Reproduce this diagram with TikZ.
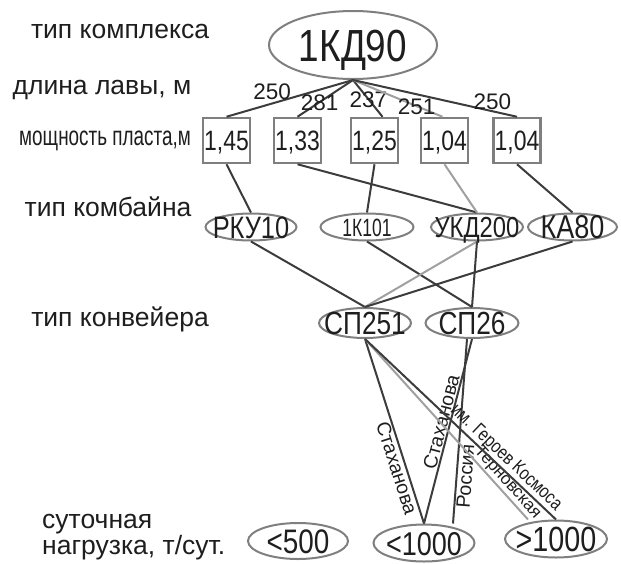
\documentclass[tikz,border=0pt]{standalone}
\usepackage{fontspec}
\setmainfont{Liberation Sans}
\newfontfamily\uzkiy[FakeStretch=0.82]{Liberation Sans}
\newfontfamily\ochenuzkiy[FakeStretch=0.7]{Liberation Sans}
\usepackage{tikz}
\usetikzlibrary{shapes.geometric}
\definecolor{ramka}{HTML}{7F7F7F}
\definecolor{liniya}{HTML}{3C3C3C}
\definecolor{svetlaya}{HTML}{A0A0A0}
\definecolor{tekst}{HTML}{1E1E1E}

\tikzset{
  uroven/.style={text=tekst,inner sep=0pt,text height=13.8pt,text depth=0pt,
    font=\fontsize{26.5}{28}\selectfont},
  oval/.style={ellipse,draw=ramka,line width=2pt,text=tekst,inner sep=-30pt,
    text height=22pt,text depth=0pt},
  plast/.style={rectangle,draw=ramka,line width=2.5pt,text=tekst,inner sep=0pt,
    minimum width=47pt,minimum height=45pt,text height=20pt,text depth=0pt,
    font=\uzkiy\fontsize{28}{30}\selectfont},
  dlina/.style={text=tekst,inner sep=1pt,text height=16pt,text depth=0pt,
    font=\fontsize{22.5}{24}\selectfont},
  ulica/.style={text=tekst,inner sep=1pt,sloped,font=\fontsize{19.5}{20}\selectfont},
  svaz/.style={liniya,line width=2pt},
  svetl/.style={svetlaya,line width=2pt}
}

\begin{document}
\begin{tikzpicture}[x=1pt,y=-1pt]
\useasboundingbox (0,0) rectangle (621,563);

% подписи уровней
\node[uroven] (tKompl) at (120,32) {тип комплекса};
\node[uroven] (tDlina) at (102,88) {длина лавы, м};
\node[uroven,font=\ochenuzkiy\fontsize{27}{28}\selectfont] (tMosch) at (105,139) {мощность пласта,м};
\node[uroven] (tKomb) at (108,210) {тип комбайна};
\node[uroven] (tKonv) at (120,320) {тип конвейера};
\node[text=tekst,inner sep=0pt,align=left,anchor=west,font=\fontsize{26.5}{26}\selectfont]
  (tNagr) at (42,537) {суточная\\нагрузка, т/сут.};

% комплекс
\node[oval,minimum width=168pt,minimum height=68pt,text height=32pt,
  font=\uzkiy\fontsize{45}{48}\selectfont] (kompleks) at (353,45) {1КД90};

% мощность пласта
\node[plast] (p1) at (226.5,140.5) {1,45};
\node[plast] (p2) at (297.5,140.5) {1,33};
\node[plast] (p3) at (374.5,140.5) {1,25};
\node[plast] (p4) at (444.5,140.5) {1,04};
\node[plast] (p5) at (517,140.5) {1,04};

% комбайны
\node[oval,minimum width=91pt,minimum height=27pt,font=\uzkiy\fontsize{31}{32}\selectfont] (rku) at (251,227) {РКУ10};
\node[oval,minimum width=93pt,minimum height=27pt,text height=18pt,font=\ochenuzkiy\fontsize{25}{26}\selectfont] (k101) at (367,227) {1К101};
\node[oval,minimum width=92pt,minimum height=27pt,text height=21pt,font=\uzkiy\fontsize{29}{30}\selectfont] (ukd) at (477,227) {УКД200};
\node[oval,minimum width=89pt,minimum height=27pt,font=\uzkiy\fontsize{33}{34}\selectfont] (ka) at (572.5,227) {КА80};

% конвейеры
\node[oval,minimum width=92pt,minimum height=30pt,font=\uzkiy\fontsize{32}{33}\selectfont] (sp251) at (365,323) {СП251};
\node[oval,minimum width=93pt,minimum height=30pt,font=\uzkiy\fontsize{32}{33}\selectfont] (sp26) at (472,323) {СП26};

% нагрузка
\node[oval,minimum width=100pt,minimum height=36pt,text height=24pt,font=\uzkiy\fontsize{34}{35}\selectfont] (n500) at (298,541) {<500};
\node[oval,minimum width=101pt,minimum height=37pt,text height=24pt,font=\uzkiy\fontsize{33}{34}\selectfont] (n1000) at (424,543) {<1000};
\node[oval,minimum width=102pt,minimum height=37pt,text height=24pt,font=\uzkiy\fontsize{35}{36}\selectfont] (nbig) at (556,539) {>1000};

% длина лавы
\draw[svaz] (kompleks.south) -- node[dlina,pos=0.64,above=2pt] {250} (p1.north);
\draw[svaz] (kompleks.south) -- node[dlina,pos=0.6] {281} (p2.north);
\draw[svaz] (kompleks.south) -- node[dlina,pos=0.52] {237} ([xshift=8pt]p3.north);
\draw[svetl] (kompleks.south) -- node[dlina,pos=0.71] {251} ([xshift=-2pt]p4.north);
\draw[svaz] (kompleks.south) -- node[dlina,pos=0.85,above=0pt] {250} (p5.north);

\draw[svaz] (p1.south) -- (rku.north);
\draw[svaz] (p2.south) -- (ukd.north);
\draw[svaz] (p3.south) -- (k101.north);
\draw[svetl] (p4.south) -- (ukd.north);
\draw[svaz] (p5.south) -- (ka.north);

\draw[svaz] (rku.south) -- (sp251.north);
\draw[svaz] (k101.south) -- (sp26.north);
\draw[svetl] (ukd.south) -- (sp251.north);
\draw[svaz] (ukd.south) -- (sp26.north);
\draw[svaz] (ka.south) -- (sp251.north);

% шахты
\draw[svaz] (sp251.south) -- node[ulica,pos=0.685,below] {Стаханова} (n1000.north);
\draw[svaz] (sp26.south) -- node[ulica,pos=0.46,above] {Стаханова} (n1000.north);
\draw[svaz] ([xshift=-5pt]sp26.south) -- node[ulica,pos=0.74,below] {Россия} ([xshift=29pt]n1000.north);
\draw[svetl] (sp251.south) -- node[ulica,pos=0.83,above,font=\fontsize{17}{18}\selectfont] {Терновская} ([xshift=-28pt]nbig.north);
\draw[svaz] (sp251.south) -- node[ulica,pos=0.7,above,font=\uzkiy\fontsize{19}{20}\selectfont] {им. Героев Космоса} (nbig.north);
\end{tikzpicture}
\end{document}
